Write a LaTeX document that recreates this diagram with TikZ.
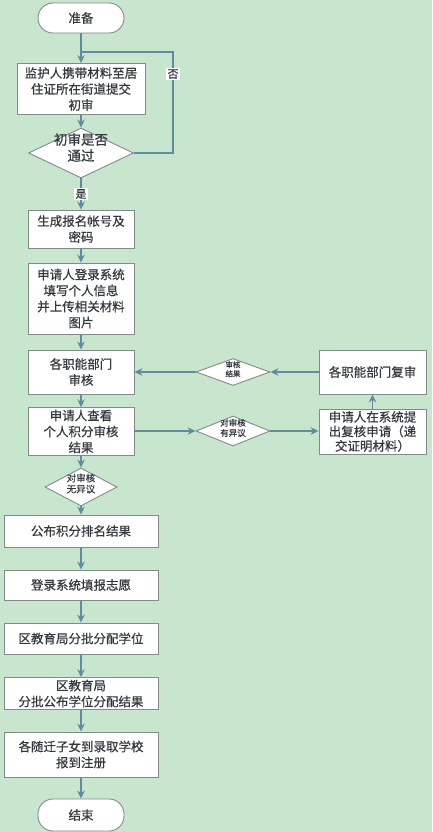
\documentclass[tikz,border=0pt]{standalone}
\usepackage{fontspec}
\setmainfont{Noto Sans CJK SC}[FakeBold=0.5]
\usetikzlibrary{shapes.geometric, arrows.meta}
\definecolor{eyegreen}{RGB}{199,230,205}
\definecolor{flowline}{RGB}{96,140,158}
\definecolor{boxline}{RGB}{130,138,140}
\definecolor{inktext}{RGB}{50,56,62}
% text of a diamond takes no room, so the diamond keeps its size
\newcommand{\dtext}[1]{\makebox[0pt]{\smash{\begin{tabular}{@{}c@{}}#1\end{tabular}}}}

\begin{document}
\begin{tikzpicture}[x=1pt,y=-1pt,
    block/.style={align=center,rectangle,draw=boxline,fill=white,line width=.9pt,inner sep=2pt,font=\fontsize{12.5}{16}\selectfont,text=inktext},
    term/.style={block,rounded corners=15pt,minimum width=86pt,minimum height=30pt},
    decision/.style={diamond,draw=boxline,fill=white,line width=.9pt,inner sep=0pt,text=inktext},
    flow/.style={draw=flowline,line width=1.4pt,-{Stealth[length=8pt,width=7.5pt]}},
    tag/.style={fill=white,inner sep=1.5pt,font=\fontsize{11}{13}\selectfont,text=inktext}]
        \fill[eyegreen] (0,0) rectangle (432,832);
        \useasboundingbox (0,0) rectangle (432,832);
        \node [term] (start) at (81,18) {准备};
        \node [block,minimum width=128pt,minimum height=51pt] (submit) at (81,89) {监护人携带材料至居\\住证所在街道提交\\初审};
        \node [decision,minimum width=105pt,minimum height=50pt,font=\fontsize{13.5}{16}\selectfont] (check) at (81,153) {\dtext{初审是否\\通过}};
        \node [block,minimum width=106pt,minimum height=38pt] (account) at (81,229) {生成报名帐号及\\密码};
        \node [block,minimum width=106pt,minimum height=71pt] (fill) at (81,298.5) {申请人登录系统\\填写个人信息\\并上传相关材料\\图片};
        \node [block,minimum width=106pt,minimum height=44pt] (review) at (81,372) {各职能部门\\审核};
        \node [block,minimum width=106pt,minimum height=45pt] (view) at (81,431.5) {申请人查看\\个人积分审核\\结果};
        \node [decision,minimum width=72pt,minimum height=38pt,font=\fontsize{9.5}{11}\selectfont] (agree) at (81,487) {\dtext{对审核\\无异议}};
        \node [block,minimum width=154pt,minimum height=32pt] (rank) at (81,531) {公布积分排名结果};
        \node [block,minimum width=154pt,minimum height=30pt] (wish) at (81,585) {登录系统填报志愿};
        \node [block,minimum width=154pt,minimum height=31pt] (assign) at (81,638.5) {区教育局分批分配学位};
        \node [block,minimum width=154pt,minimum height=31pt] (publish) at (81,693.5) {区教育局\\分批公布学位分配结果};
        \node [block,minimum width=154pt,minimum height=45pt] (enrol) at (81,754.5) {各随迁子女到录取学校\\报到注册};
        \node [term,minimum height=32pt] (stop) at (81,815) {结束};
        \node [block,minimum width=107pt,minimum height=44pt] (recheck) at (372.5,372) {各职能部门复审};
        \node [block,minimum width=107pt,minimum height=45pt,font=\fontsize{12.5}{14.5}\selectfont] (appeal) at (372.5,431.5) {申请人在系统提\\出复核申请（递\\交证明材料）};
        \node [decision,minimum width=74pt,minimum height=27pt,font=\fontsize{7.5}{9}\selectfont] (result) at (233,372) {\dtext{审核\\结果}};
        \node [decision,minimum width=74pt,minimum height=30pt,font=\fontsize{8.5}{10}\selectfont] (disagree) at (233,431) {\dtext{对审核\\有异议}};
        \coordinate (loop) at (173,52);
        \draw[flow] (start) -- (submit);
        \draw[flow] (submit) -- (check);
        \draw[draw=flowline,line width=1.4pt] (check.east) -| (loop) -- (loop -| submit);
        \node [tag] (no) at (173,74) {否};
        \path[flow] (check) edge node[tag] {是} (account);
        \draw[flow] (account) -- (fill);
        \draw[flow] (fill) -- (review);
        \draw[flow] (review) -- (view);
        \draw[flow] (view) -- (agree);
        \draw[flow] (agree) -- (rank);
        \draw[flow] (rank) -- (wish);
        \draw[flow] (wish) -- (assign);
        \draw[flow] (assign) -- (publish);
        \draw[flow] (publish) -- (enrol);
        \draw[flow] (enrol) -- (stop);
        \draw[flow] (view.east |- disagree) -- (disagree);
        \draw[flow] (disagree) -- (appeal.west |- disagree);
        \draw[flow] (appeal) -- (recheck);
        \draw[flow] (recheck) -- (result);
        \draw[flow] (result) -- (review);
    \end{tikzpicture}
\end{document}
